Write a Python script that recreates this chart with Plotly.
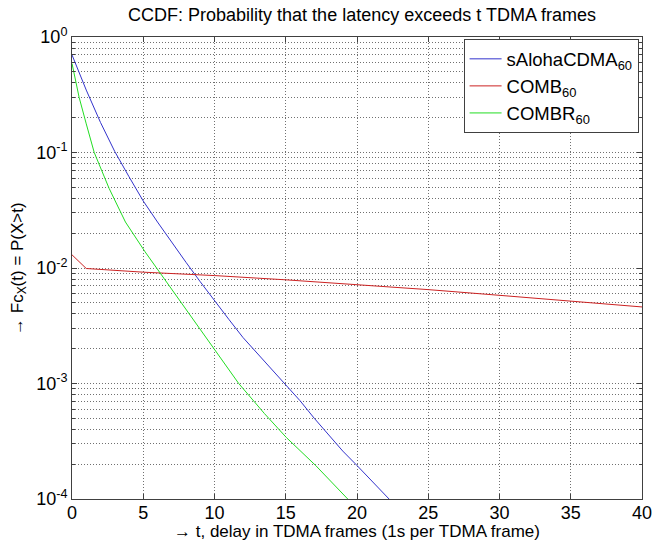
import plotly.graph_objects as go

# ---- data ----
t_aloha = [0, 1, 2, 3, 4, 5, 6, 7, 8, 9, 10, 11, 12, 13, 14, 15, 16, 17, 18, 19, 20, 21, 22, 22.25]
p_aloha = [0.70, 0.347, 0.182, 0.102, 0.0617, 0.038, 0.025, 0.0166, 0.0112, 0.0076, 0.0052,
           0.0036, 0.0025, 0.00182, 0.00132, 0.00098, 0.00071, 0.00050, 0.00036, 0.00026,
           0.000195, 0.000145, 0.000107, 0.0001]

t_comb = [0, 1, 5, 10, 15, 20, 25, 30, 35, 40]
p_comb = [0.013, 0.0099, 0.0092, 0.0086, 0.0079, 0.0072, 0.0065, 0.0058, 0.0052, 0.0046]

t_combr = [0, 0.5, 1, 1.3, 1.56, 2.6, 3.75, 5.13, 6.17, 8, 10, 11.7, 13.5, 15.05, 17.1, 19.35]
p_combr = [0.59, 0.30, 0.177, 0.132, 0.10, 0.049, 0.025, 0.0138, 0.0091, 0.0044, 0.00198,
           0.0010, 0.00055, 0.00034, 0.000195, 0.0001]

names = ["sAlohaCDMA<sub>60</sub>", "COMB<sub>60</sub>", "COMBR<sub>60</sub>"]
colors = ["#3333cc", "#cc2222", "#22dd22"]

x_ticks = [0, 5, 10, 15, 20, 25, 30, 35, 40]
y_ticks = [1e-4, 1e-3, 1e-2, 1e-1, 1e0]
y_ticktext = ["10<sup>-4</sup>", "10<sup>-3</sup>", "10<sup>-2</sup>", "10<sup>-1</sup>", "10<sup>0</sup>"]

title_text = "CCDF: Probability that the latency exceeds t TDMA frames"
x_title = "→ t, delay in TDMA frames (1s per TDMA frame)"
y_title = "→ Fc<sub>X</sub>(t) = P(X>t)"

FONT = "Liberation Sans, Arial, sans-serif"
GRID = "#707070"
AXIS = "#404040"

W, H = 662, 544
L, R, T, B = 72, 10, 37, 45
PW, PH = W - L - R, H - T - B

fig = go.Figure()
for xs, ys, nm, c in zip([t_aloha, t_comb, t_combr], [p_aloha, p_comb, p_combr], names, colors):
    fig.add_trace(go.Scatter(x=xs, y=ys, mode="lines", name=nm,
                             line=dict(color=c, width=1)))

fig.update_layout(
    width=W, height=H,
    margin=dict(l=L, r=R, t=T, b=B),
    paper_bgcolor="white", plot_bgcolor="white",
    font=dict(family=FONT, size=18, color="black"),
    title=dict(text=title_text, x=362 / W, xanchor="center",
               y=1 - 15 / H, yanchor="middle", font=dict(size=18)),
    showlegend=True,
    legend=dict(x=0.994, y=0.995, xanchor="right", yanchor="top",
                bordercolor=AXIS, borderwidth=1, bgcolor="white",
                font=dict(size=18.5), tracegroupgap=0, itemwidth=32),
)

# axis titles as annotations (precise placement)
fig.add_annotation(text=x_title, xref="paper", yref="paper",
                   x=(362 - L) / PW, y=(T + PH - 531) / PH,
                   xanchor="center", yanchor="middle", showarrow=False,
                   font=dict(size=17))
fig.add_annotation(text=y_title, xref="paper", yref="paper",
                   x=(18 - L) / PW, y=0.5, textangle=-90,
                   xanchor="center", yanchor="middle", showarrow=False,
                   font=dict(size=17))

fig.update_xaxes(
    range=[0, 40], tickvals=x_ticks, ticks="inside", ticklen=5, tickcolor=AXIS,
    showline=True, linecolor=AXIS, linewidth=1, mirror="ticks",
    showgrid=True, gridcolor=GRID, griddash="1px,2px", gridwidth=1,
    zeroline=False, tickfont=dict(size=18), ticklabeloverflow="allow",
    ticklabelstandoff=-3,
)

fig.update_yaxes(
    type="log", range=[-4, 0], tickvals=y_ticks, ticktext=y_ticktext,
    ticks="inside", ticklen=5, tickcolor=AXIS,
    showline=True, linecolor=AXIS, linewidth=1, mirror="ticks",
    showgrid=True, gridcolor=GRID, griddash="1px,2px", gridwidth=1,
    zeroline=False, tickfont=dict(size=18),
    minor=dict(dtick="D1", ticks="inside", ticklen=3, tickcolor=AXIS,
               showgrid=True, gridcolor=GRID, griddash="1px,2px", gridwidth=1),
)

fig.write_html("out.html",
               config={"displayModeBar": False},
               post_script="document.body.style.margin='0';document.body.style.overflow='hidden';")
